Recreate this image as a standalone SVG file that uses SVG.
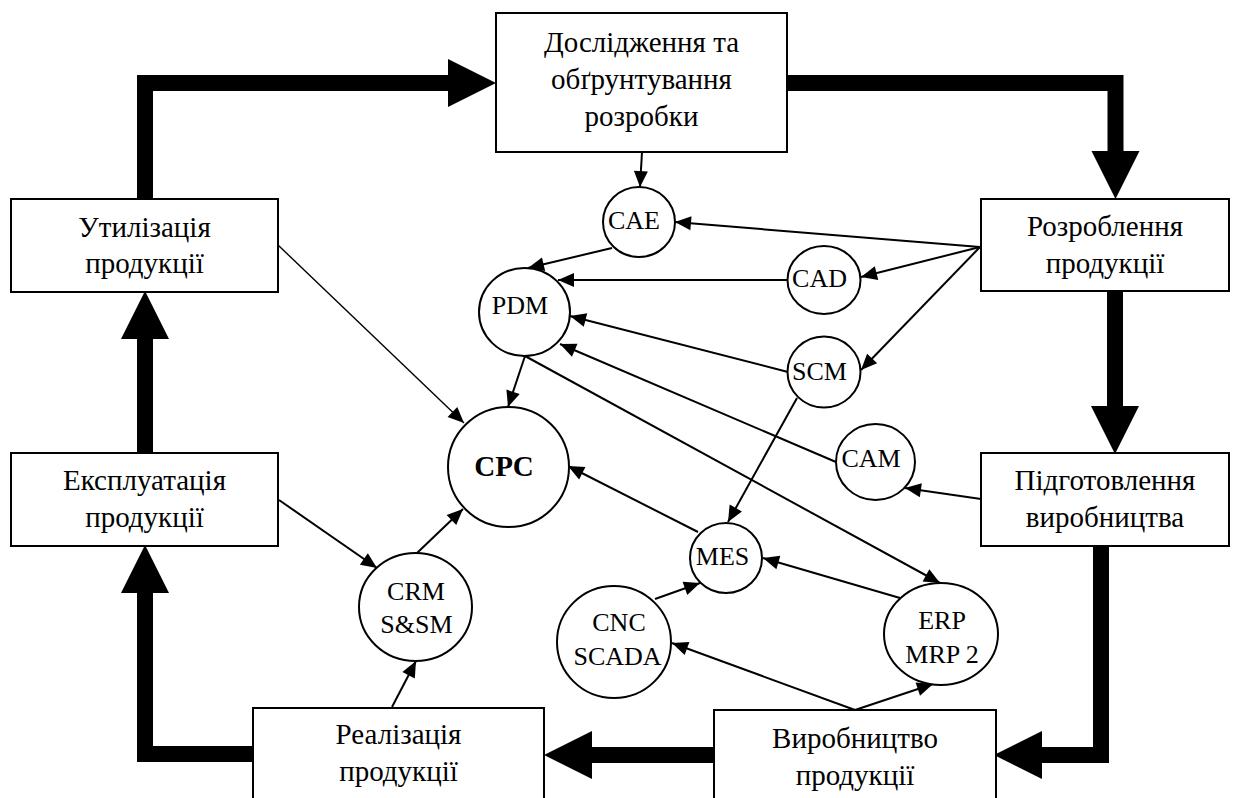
<svg xmlns="http://www.w3.org/2000/svg" width="1240" height="798" viewBox="0 0 1240 798">
<style>
.box{fill:#fff;stroke:#000;stroke-width:2}
.node{fill:#fff;stroke:#000;stroke-width:2}
.bt{font-family:"Liberation Serif","Times New Roman",serif;font-size:29px;text-anchor:middle;fill:#000}
.ct{font-family:"Liberation Serif","Times New Roman",serif;font-size:26px;text-anchor:middle;fill:#000}
.cpc{font-family:"Liberation Serif","Times New Roman",serif;font-size:29px;font-weight:bold;text-anchor:middle;fill:#000}
.thick{fill:none;stroke:#000;stroke-width:16;stroke-linejoin:miter;marker-end:url(#big)}
.thin{fill:none;stroke:#000;stroke-width:2;marker-end:url(#small)}
</style>
<defs>
<marker id="big" markerUnits="userSpaceOnUse" markerWidth="48" markerHeight="48" viewBox="0 0 48 48" refX="0" refY="24" orient="auto" overflow="visible">
<path d="M0,0 L48,24 L0,48 Z" fill="#000"/>
</marker>
<marker id="small" markerUnits="userSpaceOnUse" markerWidth="16" markerHeight="14" viewBox="0 0 16 14" refX="16" refY="7" orient="auto" overflow="visible">
<path d="M0,0 L16,7 L0,14 Z" fill="#000"/>
</marker>
</defs>
<rect width="1240" height="798" fill="#fff"/>

<g id="connectors">
<path class="thick" d="M145,199 V83 H448"/>
<path class="thick" d="M787,83 H1115.5 V151"/>
<path class="thick" d="M1115,291 V406"/>
<path class="thick" d="M1101,546 V755 H1042"/>
<path class="thick" d="M714,755 H592"/>
<path class="thick" d="M253,754 H145 V593"/>
<path class="thick" d="M145,453 V339"/>

<path class="thin" d="M642,152 L640,187"/>
<path class="thin" d="M980,247 L675,222"/>
<path class="thin" d="M980,247 L861,277"/>
<path class="thin" d="M980,247 L861,370"/>
<path class="thin" d="M612,248 L528,268"/>
<path class="thin" d="M788,280 L558,280"/>
<path class="thin" d="M788,372 L570,316"/>
<path class="thin" d="M836,462 L560,344"/>
<path class="thin" d="M525,356 L940,583"/>
<path class="thin" d="M525,356 L508,407"/>
<path class="thin" style="stroke-width:1.4" d="M278,245 L464,423"/>
<path class="thin" d="M698,532 L568,466"/>
<path class="thin" d="M417,553 L463,509"/>
<path class="thin" d="M797,398 L728,522"/>
<path class="thin" d="M900,598 L763,558"/>
<path class="thin" d="M655,599 L700,583"/>
<path class="thin" d="M981,499 L905,488"/>
<path class="thin" d="M855,710 L672,643"/>
<path class="thin" d="M855,710 L933,684"/>
<path class="thin" d="M279,500 L377,568"/>
<path class="thin" d="M392,707 L416,661"/>
</g>

<g id="n-doslidzhennia">
<rect class="box" x="496" y="13" width="291" height="139"/>
<text class="bt" x="641.5" y="52">Дослідження та</text>
<text class="bt" x="641.5" y="89">обґрунтування</text>
<text class="bt" x="641.5" y="126">розробки</text>
</g>
<g id="n-utylizatsiia">
<rect class="box" x="11" y="199" width="267" height="93"/>
<text class="bt" x="144.5" y="237">Утилізація</text>
<text class="bt" x="144.5" y="273">продукції</text>
</g>
<g id="n-ekspluatatsiia">
<rect class="box" x="11" y="453" width="267" height="93"/>
<text class="bt" x="144.5" y="490">Експлуатація</text>
<text class="bt" x="144.5" y="527">продукції</text>
</g>
<g id="n-realizatsiia">
<rect class="box" x="253" y="708" width="291" height="110"/>
<text class="bt" x="398.5" y="744">Реалізація</text>
<text class="bt" x="398.5" y="781">продукції</text>
</g>
<g id="n-vyrobnytstvo">
<rect class="box" x="714" y="710" width="282" height="110"/>
<text class="bt" x="855" y="748">Виробництво</text>
<text class="bt" x="855" y="785">продукції</text>
</g>
<g id="n-rozroblennia">
<rect class="box" x="981" y="199" width="248" height="92"/>
<text class="bt" x="1105" y="236">Розроблення</text>
<text class="bt" x="1105" y="273">продукції</text>
</g>
<g id="n-pidhotovlennia">
<rect class="box" x="981" y="453" width="248" height="93"/>
<text class="bt" x="1105" y="490">Підготовлення</text>
<text class="bt" x="1105" y="527">виробництва</text>
</g>

<g id="n-cae">
<ellipse class="node" cx="639" cy="222" rx="36" ry="35"/>
<text class="ct" x="634" y="229">CAE</text>
</g>
<g id="n-cad">
<ellipse class="node" cx="824" cy="280" rx="36.5" ry="34"/>
<text class="ct" x="819.5" y="287">CAD</text>
</g>
<g id="n-scm">
<ellipse class="node" cx="824" cy="372" rx="36.5" ry="35.5"/>
<text class="ct" x="819.5" y="380">SCM</text>
</g>
<g id="n-pdm">
<ellipse class="node" cx="524.5" cy="312" rx="45.5" ry="44"/>
<text class="ct" x="520" y="314">PDM</text>
</g>
<g id="n-cam">
<ellipse class="node" cx="875.5" cy="462" rx="39.5" ry="38"/>
<text class="ct" x="871" y="467">CAM</text>
</g>
<g id="n-cpc">
<ellipse class="node" cx="508.5" cy="467" rx="60.5" ry="60"/>
<text class="cpc" x="504" y="476">CPC</text>
</g>
<g id="n-mes">
<ellipse class="node" cx="726" cy="558" rx="36" ry="35"/>
<text class="ct" x="722.5" y="565">MES</text>
</g>
<g id="n-cnc">
<ellipse class="node" cx="614" cy="642" rx="57" ry="56"/>
<text class="ct" x="619" y="631">CNC</text>
<text class="ct" x="617.5" y="665">SCADA</text>
</g>
<g id="n-erp">
<ellipse class="node" cx="941" cy="634" rx="57" ry="51"/>
<text class="ct" x="942" y="629">ERP</text>
<text class="ct" x="942" y="663">MRP 2</text>
</g>
<g id="n-crm">
<ellipse class="node" cx="415.5" cy="607" rx="56.5" ry="54"/>
<text class="ct" x="416" y="600">CRM</text>
<text class="ct" x="416.5" y="633">S&amp;SM</text>
</g>
</svg>
